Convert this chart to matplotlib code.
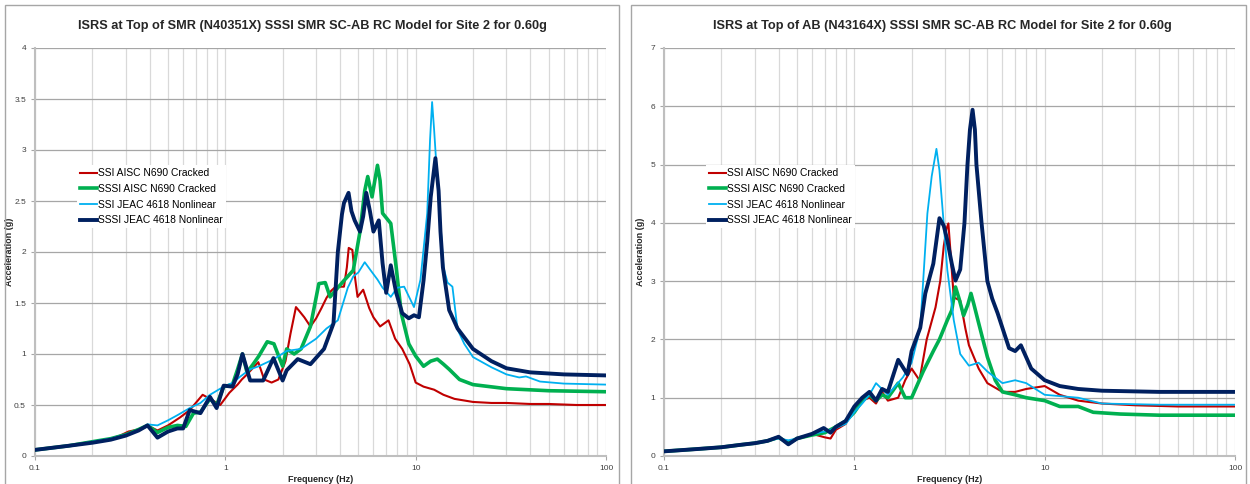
import matplotlib
matplotlib.use("Agg")
import matplotlib.pyplot as plt
from matplotlib.patches import Rectangle
import numpy as np

plt.rcParams['font.family'] = ['Liberation Sans', 'DejaVu Sans']

TITLE_L = "ISRS at Top of SMR (N40351X) SSSI SMR SC-AB RC Model for Site 2 for 0.60g"
TITLE_R = "ISRS at Top of AB (N43164X) SSSI SMR SC-AB RC Model for Site 2 for 0.60g"
LABELS = ["SSI AISC N690 Cracked", "SSSI AISC N690 Cracked",
          "SSI JEAC 4618 Nonlinear", "SSSI JEAC 4618 Nonlinear"]
COLORS = ["#c00000", "#00b050", "#00b0f0", "#002060"]
WIDTHS = [1.5, 2.6, 1.3, 2.8]
XTICKS = [0.1, 1, 10, 100]
XTICKLABELS = ["0.1", "1", "10", "100"]

# ---------------- Left chart (SMR) ----------------
smr_red_f = [0.1, 0.15, 0.2, 0.25, 0.28, 0.31, 0.35, 0.39, 0.44, 0.5, 0.58, 0.65, 0.76, 0.85, 0.94,
             1.05, 1.16, 1.22, 1.3, 1.49, 1.6, 1.75, 1.9, 2.07, 2.2, 2.35, 2.45, 2.6, 2.8, 3.0, 3.2,
             3.4, 3.6, 3.8, 4.2, 4.35, 4.45, 4.65, 4.8, 4.95, 5.3, 5.7, 6.0, 6.5, 7.2, 7.8, 8.5, 9.3, 10, 11,
             12.5, 14, 16, 20, 25, 30, 40, 50, 70, 100]
smr_red_a = [0.06, 0.1, 0.13, 0.17, 0.2, 0.24, 0.26, 0.3, 0.25, 0.3, 0.38, 0.45, 0.6, 0.55, 0.5,
             0.62, 0.7, 0.75, 0.8, 0.92, 0.75, 0.72, 0.75, 0.93, 1.2, 1.46, 1.42, 1.36, 1.27, 1.35, 1.45,
             1.55, 1.62, 1.66, 1.66, 1.85, 2.04, 2.02, 1.75, 1.56, 1.63, 1.45, 1.36, 1.27, 1.33, 1.15, 1.05, 0.9, 0.72, 0.68,
             0.65, 0.6, 0.56, 0.53, 0.52, 0.52, 0.51, 0.51, 0.5, 0.5]

smr_grn_f = [0.1, 0.15, 0.2, 0.25, 0.3, 0.35, 0.39, 0.44, 0.5, 0.56, 0.62, 0.68, 0.74, 0.83, 0.9,
             0.98, 1.09, 1.16, 1.23, 1.3, 1.4, 1.5, 1.66, 1.8, 2.0, 2.1, 2.3, 2.5, 2.8, 3.1, 3.35,
             3.55, 3.9, 4.2, 4.7, 5.1, 5.4, 5.6, 5.9, 6.1, 6.3, 6.5, 6.7, 7.4, 7.9, 8.4, 9.2, 10, 11, 12, 13, 14,
             15, 17, 20, 30, 50, 100]
smr_grn_a = [0.06, 0.1, 0.14, 0.17, 0.21, 0.26, 0.3, 0.23, 0.28, 0.3, 0.29, 0.42, 0.43, 0.56, 0.5,
             0.68, 0.7, 0.85, 1.0, 0.82, 0.9, 0.98, 1.12, 1.1, 0.88, 1.05, 1.0, 1.05, 1.27, 1.69, 1.7,
             1.56, 1.65, 1.72, 1.82, 2.2, 2.6, 2.74, 2.54, 2.7, 2.85, 2.7, 2.38, 2.28, 1.85, 1.4, 1.1, 0.98, 0.88, 0.93, 0.95, 0.9,
             0.85, 0.75, 0.7, 0.66, 0.64, 0.63]

smr_blu_f = [0.1, 0.15, 0.2, 0.25, 0.3, 0.35, 0.39, 0.44, 0.5, 0.56, 0.65, 0.74, 0.83, 0.98, 1.1,
             1.2, 1.35, 1.5, 1.8, 2.1, 2.5, 3.0, 3.4, 3.9, 4.4, 4.7, 5.0, 5.4, 5.8, 6.3, 6.7, 7.4,
             8.0, 8.7, 9.4, 9.8, 10.6, 11.5, 11.9, 12.2, 12.5, 13.0, 14.0, 14.7, 15.6, 16.6, 18, 20, 25, 30, 35,
             38, 45, 60, 100]
smr_blu_a = [0.06, 0.1, 0.14, 0.17, 0.21, 0.25, 0.31, 0.3, 0.35, 0.4, 0.47, 0.52, 0.6, 0.68, 0.72,
             0.78, 0.85, 0.88, 0.95, 1.03, 1.05, 1.15, 1.25, 1.33, 1.65, 1.76, 1.8, 1.9, 1.82, 1.73, 1.65, 1.56,
             1.65, 1.66, 1.53, 1.46, 1.73, 2.38, 3.1, 3.47, 3.2, 2.7, 1.85, 1.7, 1.66, 1.24, 1.1, 0.97, 0.87, 0.8, 0.77,
             0.78, 0.73, 0.71, 0.7]

smr_nav_f = [0.1, 0.15, 0.2, 0.25, 0.3, 0.35, 0.39, 0.44, 0.5, 0.56, 0.6, 0.65, 0.74, 0.83, 0.9,
             0.98, 1.09, 1.16, 1.23, 1.35, 1.58, 1.79, 2.0, 2.1, 2.4, 2.8, 3.3, 3.7, 3.9, 4.1, 4.2,
             4.44, 4.6, 4.78, 5.1, 5.3, 5.5, 5.75, 6.0, 6.4, 6.7, 7.0, 7.4, 7.9, 8.5, 9.2, 9.8, 10.4, 11.0, 11.5, 12.0,
             12.7, 13.2, 13.5, 13.9, 15.0, 16.6, 20, 25, 30, 40, 60, 100]
smr_nav_a = [0.06, 0.1, 0.13, 0.16, 0.2, 0.25, 0.3, 0.18, 0.24, 0.27, 0.27, 0.45, 0.42, 0.58, 0.47,
             0.69, 0.68, 0.8, 1.0, 0.74, 0.74, 0.96, 0.74, 0.84, 0.95, 0.9, 1.05, 1.3, 2.0, 2.37, 2.48,
             2.58, 2.4, 2.31, 2.2, 2.35, 2.58, 2.4, 2.2, 2.31, 1.89, 1.6, 1.87, 1.6, 1.4, 1.35, 1.38, 1.36, 1.72, 2.1, 2.54,
             2.92, 2.6, 2.2, 1.85, 1.43, 1.25, 1.05, 0.93, 0.86, 0.82, 0.8, 0.79]

# ---------------- Right chart (AB) ----------------
ab_red_f = [0.1, 0.15, 0.2, 0.25, 0.3, 0.35, 0.4, 0.45, 0.5, 0.6, 0.7, 0.75, 0.8, 0.9, 1.0, 1.1,
            1.2, 1.3, 1.4, 1.5, 1.7, 1.85, 2.0, 2.2, 2.4, 2.67, 2.83, 2.95, 3.05, 3.12, 3.2, 3.33, 3.6, 3.83,
            4.0, 4.5, 5.0, 6.0, 7.0, 8.0, 10, 12, 15, 20, 30, 50, 100]
ab_red_a = [0.08, 0.12, 0.15, 0.19, 0.22, 0.26, 0.32, 0.22, 0.3, 0.38, 0.32, 0.3, 0.45, 0.55, 0.8, 0.95,
            1.0, 0.9, 1.1, 0.95, 1.0, 1.3, 1.5, 1.3, 2.0, 2.55, 3.01, 3.6, 3.9, 3.99, 3.5, 2.72, 2.67, 2.19,
            1.9, 1.5, 1.25, 1.1, 1.1, 1.15, 1.2, 1.05, 0.95, 0.9, 0.87, 0.85, 0.85]

ab_grn_f = [0.1, 0.15, 0.2, 0.25, 0.3, 0.35, 0.4, 0.45, 0.5, 0.6, 0.7, 0.8, 0.9, 1.0, 1.1, 1.2,
            1.3, 1.4, 1.5, 1.7, 1.85, 2.0, 2.3, 2.6, 2.8, 3.08, 3.25, 3.4, 3.55, 3.75, 3.95, 4.1, 4.25, 4.5, 5.0,
            5.5, 6.0, 7.0, 8.0, 10, 12, 15, 18, 25, 40, 100]
ab_grn_a = [0.08, 0.12, 0.15, 0.19, 0.22, 0.26, 0.32, 0.22, 0.3, 0.36, 0.4, 0.5, 0.6, 0.75, 0.95, 1.05,
            0.95, 1.05, 1.0, 1.25, 1.0, 1.0, 1.45, 1.8, 2.0, 2.33, 2.5, 2.9, 2.7, 2.41, 2.6, 2.79, 2.6, 2.28, 1.7,
            1.3, 1.1, 1.05, 1.0, 0.95, 0.85, 0.85, 0.75, 0.72, 0.7, 0.7]

ab_blu_f = [0.1, 0.15, 0.2, 0.25, 0.3, 0.35, 0.4, 0.45, 0.5, 0.6, 0.7, 0.8, 0.9, 1.0, 1.1, 1.2,
            1.3, 1.5, 1.8, 2.0, 2.22, 2.42, 2.55, 2.7, 2.8, 2.94, 3.08, 3.33, 3.6, 4.0, 4.5, 5.0, 6.0, 7.0,
            8.0, 10, 15, 20, 40, 100]
ab_blu_a = [0.08, 0.12, 0.15, 0.19, 0.22, 0.26, 0.3, 0.27, 0.3, 0.38, 0.42, 0.48, 0.55, 0.75, 0.9, 1.05,
            1.25, 1.05, 1.35, 1.6, 2.2, 4.16, 4.8, 5.27, 4.9, 4.04, 3.19, 2.33, 1.75, 1.55, 1.6, 1.45, 1.25, 1.3,
            1.25, 1.05, 1.0, 0.9, 0.88, 0.88]

ab_nav_f = [0.1, 0.15, 0.2, 0.25, 0.3, 0.35, 0.4, 0.45, 0.5, 0.6, 0.69, 0.75, 0.8, 0.9, 1.0, 1.1,
            1.2, 1.3, 1.4, 1.5, 1.7, 1.9, 2.0, 2.22, 2.36, 2.6, 2.8, 2.95, 3.08, 3.25, 3.4, 3.6, 3.79, 3.93, 4.05, 4.18, 4.3,
            4.38, 4.66, 5.0, 5.3, 5.66, 6.5, 7.0, 7.5, 8.5, 10, 12, 15, 20, 40, 100]
ab_nav_a = [0.08, 0.12, 0.15, 0.19, 0.22, 0.26, 0.33, 0.2, 0.3, 0.38, 0.48, 0.4, 0.5, 0.6, 0.85, 1.0,
            1.1, 0.95, 1.15, 1.1, 1.65, 1.4, 1.8, 2.2, 2.79, 3.3, 4.08, 3.95, 3.7, 3.3, 3.01, 3.2, 4.0, 5.0, 5.6, 5.94, 5.6,
            5.0, 4.0, 3.0, 2.7, 2.45, 1.85, 1.8, 1.9, 1.5, 1.3, 1.2, 1.15, 1.12, 1.1, 1.1]

SMR = [(smr_red_f, smr_red_a), (smr_grn_f, smr_grn_a), (smr_blu_f, smr_blu_a), (smr_nav_f, smr_nav_a)]
AB = [(ab_red_f, ab_red_a), (ab_grn_f, ab_grn_a), (ab_blu_f, ab_blu_a), (ab_nav_f, ab_nav_a)]

fig = plt.figure(figsize=(12.5, 4.84), dpi=100)
W, H = 1250, 484

# chart frames
for x0, x1 in [(5, 619), (631, 1246)]:
    fig.patches.append(Rectangle((x0 / W, -0.01), (x1 - x0) / W, 1 - 5 / H + 0.01,
                                 transform=fig.transFigure, fill=False,
                                 edgecolor="#a6a6a6", linewidth=1.0))


def draw(rect, series, ymax, ystep, yfmt, title, title_x, ylab_x):
    ax = fig.add_axes(rect)
    ax.set_xscale("log")
    ax.set_xlim(0.1, 100)
    ax.set_ylim(0, ymax)
    for (f, a), c, lw, lab in zip(series, COLORS, WIDTHS, LABELS):
        ax.plot(f, a, color=c, lw=lw, label=lab, solid_joinstyle="round", zorder=3)
    yt = np.arange(0, ymax + 1e-9, ystep)
    ax.set_yticks(yt)
    ax.set_yticklabels([yfmt(v) for v in yt])
    ax.set_xticks(XTICKS)
    ax.set_xticklabels(XTICKLABELS)
    ax.xaxis.set_minor_locator(matplotlib.ticker.LogLocator(base=10, subs=np.arange(2, 10)))
    ax.xaxis.set_minor_formatter(matplotlib.ticker.NullFormatter())
    ax.grid(True, axis="y", which="major", color="#a6a6a6", lw=0.9, zorder=1)
    ax.grid(True, axis="x", which="both", color="#d9d9d9", lw=0.9, zorder=1)
    ax.tick_params(axis="both", which="major", labelsize=6, labelcolor="#404040",
                   color="#a6a6a6", length=3, width=0.8)
    ax.tick_params(axis="x", which="minor", length=0)
    for s in ["top", "right"]:
        ax.spines[s].set_visible(False)
    for s in ["left", "bottom"]:
        ax.spines[s].set_color("#bfbfbf")
        ax.spines[s].set_linewidth(1.5)
    ax.set_xlabel("Frequency (Hz)", fontsize=6.5, fontweight="bold", color="#262626", labelpad=2)
    ax.set_ylabel("Acceleration (g)", fontsize=6.5, fontweight="bold", color="#262626")
    ax.yaxis.set_label_coords(ylab_x, 0.5)
    leg = ax.legend(loc="upper left", bbox_to_anchor=(0.065, 0.725), fontsize=7.4,
                    frameon=True, facecolor="white", edgecolor="none", framealpha=1,
                    handlelength=1.6, handletextpad=0.1, labelspacing=0.55,
                    borderpad=0.3, fancybox=False)
    leg.set_zorder(5)
    fig.text(title_x, 1 - 26 / H, title, ha="center", va="center",
             fontsize=9.2, fontweight="bold", color="#262626")
    return ax


L = 35 / W
B = 28 / H
AW = 571 / W
AH = 408 / H
draw([L, B, AW, AH], SMR, 4, 0.5, lambda v: "0" if v == 0 else ("%g" % v),
     TITLE_L, 312 / W, -0.036)
draw([664 / W, B, AW, AH], AB, 7, 1, lambda v: "%d" % v, TITLE_R, 942 / W, -0.034)

fig.savefig("out.png", dpi=100)
